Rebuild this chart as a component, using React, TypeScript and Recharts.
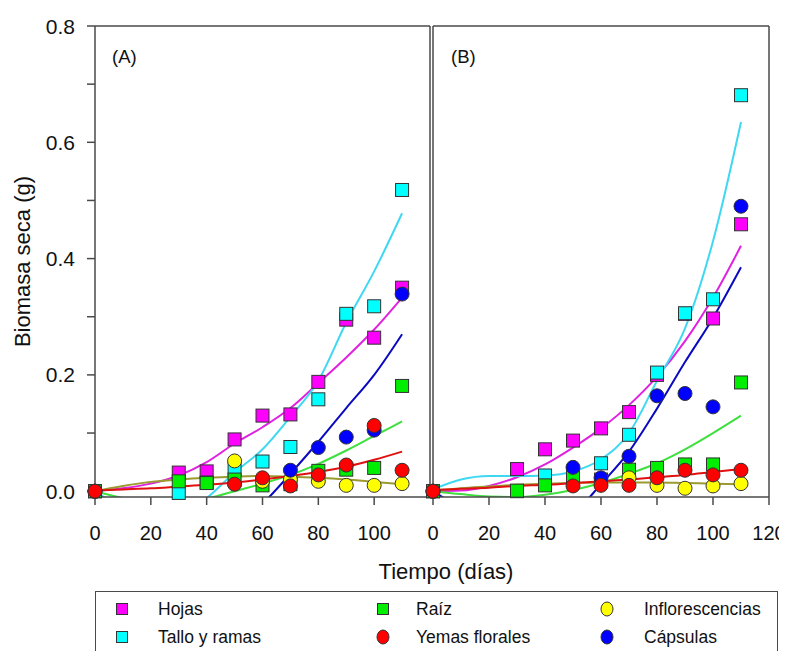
import React from "react";
import {
  ComposedChart,
  Scatter,
  Line,
  XAxis,
  YAxis,
  ReferenceLine,
} from "recharts";

// sampling days of the measured points and of the fitted curves
const DAYS = [0, 30, 40, 50, 60, 70, 80, 90, 100, 110];
const FIT_DAYS = [0, 10, 20, 30, 40, 50, 60, 70, 80, 90, 100, 110];

// panel (A) measured values, g
const HOJAS_A = [0, 0.032, 0.034, 0.089, 0.13, 0.132, 0.188, 0.295, 0.264, 0.35];
const TALLO_A = [0, -0.003, 0.015, 0.038, 0.051, 0.076, 0.158, 0.305, 0.318, 0.518];
const RAIZ_A = [0, 0.017, 0.014, 0.02, 0.01, 0.012, 0.035, 0.037, 0.04, 0.181];
const INFLOR_A = [0, null, null, 0.052, 0.017, 0.02, 0.017, 0.01, 0.01, 0.013];
const CAPSULAS_A = [0, null, null, null, null, 0.036, 0.075, 0.093, 0.105, 0.339];
const YEMAS_A = [0, null, null, 0.012, 0.023, 0.009, 0.028, 0.045, 0.113, 0.036];

// panel (A) fitted curves
const FIT_HOJAS_A = [0, 0.005, 0.013, 0.027, 0.05, 0.082, 0.11, 0.143, 0.186, 0.23, 0.278, 0.333];
const FIT_TALLO_A = [0, -0.03, -0.05, -0.045, -0.012, 0.032, 0.072, 0.128, 0.19, 0.29, 0.378, 0.478];
const FIT_RAIZ_A = [0, -0.012, -0.02, -0.02, -0.013, 0, 0.013, 0.028, 0.047, 0.07, 0.095, 0.12];
const FIT_INFLOR_A = [0, 0.009, 0.016, 0.02, 0.023, 0.025, 0.026, 0.025, 0.023, 0.02, 0.016, 0.012];
const FIT_CAPSULAS_A = [0, -0.04, -0.07, -0.09, -0.09, -0.065, -0.022, 0.03, 0.085, 0.143, 0.2, 0.27];
const FIT_YEMAS_A = [0.001, 0.003, 0.005, 0.008, 0.011, 0.015, 0.02, 0.026, 0.033, 0.042, 0.054, 0.068];

// panel (B) measured values, g
const HOJAS_B = [0, 0.038, 0.072, 0.087, 0.108, 0.136, 0.2, 0.305, 0.297, 0.459];
const TALLO_B = [0, 0, 0.027, 0.03, 0.048, 0.097, 0.204, 0.306, 0.33, 0.681];
const RAIZ_B = [0, 0.001, 0.01, 0.023, 0.02, 0.037, 0.04, 0.046, 0.046, 0.187];
const INFLOR_B = [0, null, null, null, null, 0.023, 0.01, 0.005, 0.009, 0.013];
const CAPSULAS_B = [0, null, null, 0.041, 0.023, 0.06, 0.164, 0.168, 0.145, 0.49];
const YEMAS_B = [0, null, null, 0.009, 0.01, 0.01, 0.023, 0.036, 0.028, 0.036];

// panel (B) fitted curves
const FIT_HOJAS_B = [0, 0.001, 0.009, 0.024, 0.046, 0.075, 0.108, 0.148, 0.197, 0.258, 0.333, 0.422];
const FIT_TALLO_B = [0.003, 0.02, 0.026, 0.026, 0.027, 0.034, 0.055, 0.1, 0.19, 0.28, 0.43, 0.635];
const FIT_RAIZ_B = [0, -0.005, -0.009, -0.01, -0.006, 0.002, 0.014, 0.03, 0.048, 0.072, 0.1, 0.13];
const FIT_INFLOR_B = [0.001, 0.005, 0.008, 0.011, 0.013, 0.014, 0.015, 0.015, 0.015, 0.014, 0.013, 0.012];
const FIT_CAPSULAS_B = [0, -0.03, -0.06, -0.075, -0.07, -0.04, 0.012, 0.068, 0.142, 0.222, 0.298, 0.385];
const FIT_YEMAS_B = [0.002, 0.004, 0.006, 0.009, 0.011, 0.014, 0.017, 0.02, 0.024, 0.028, 0.033, 0.038];

const Y_TICKS = [0, 0.1, 0.2, 0.3, 0.4, 0.5, 0.6, 0.7, 0.8];
const X_TICKS_A = [0, 20, 40, 60, 80, 100];
const X_TICKS_B = [0, 20, 40, 60, 80, 100, 120];

const FONT = "'Liberation Sans', Arial, sans-serif";
const AXIS = "#4a4a4a";
const Y_DOMAIN: [number, number] = [-0.01, 0.8];
const X_DOMAIN: [number, number] = [0, 120];

type Shape = "square" | "circle";

const SERIES = [
  { name: "Hojas", shape: "square" as Shape, fill: "#ff00ff", line: "#e022e0" },
  { name: "Tallo y ramas", shape: "square" as Shape, fill: "#00ffff", line: "#3fd8f2" },
  { name: "Raíz", shape: "square" as Shape, fill: "#00ee00", line: "#3ee03e" },
  { name: "Inflorescencias", shape: "circle" as Shape, fill: "#ffff00", line: "#9a9a30" },
  { name: "Cápsulas", shape: "circle" as Shape, fill: "#0000ff", line: "#0a0ac0" },
  { name: "Yemas florales", shape: "circle" as Shape, fill: "#ff0000", line: "#e01010" },
];

const PANEL_A = {
  points: [HOJAS_A, TALLO_A, RAIZ_A, INFLOR_A, CAPSULAS_A, YEMAS_A],
  fits: [FIT_HOJAS_A, FIT_TALLO_A, FIT_RAIZ_A, FIT_INFLOR_A, FIT_CAPSULAS_A, FIT_YEMAS_A],
};
const PANEL_B = {
  points: [HOJAS_B, TALLO_B, RAIZ_B, INFLOR_B, CAPSULAS_B, YEMAS_B],
  fits: [FIT_HOJAS_B, FIT_TALLO_B, FIT_RAIZ_B, FIT_INFLOR_B, FIT_CAPSULAS_B, FIT_YEMAS_B],
};

const toPoints = (xs: number[], ys: (number | null)[]) =>
  xs.map((x, i) => ({ x, y: ys[i] })).filter((d) => d.y !== null);

function marker(shape: Shape, fill: string) {
  return (props: any) => {
    const { cx, cy } = props;
    if (cx == null || cy == null) return <g />;
    if (shape === "square")
      return <rect x={cx - 6.5} y={cy - 6.5} width={13} height={13} fill={fill} stroke="#333" strokeWidth={1} />;
    return <circle cx={cx} cy={cy} r={7} fill={fill} stroke="#333" strokeWidth={1} />;
  };
}

const YTick = (props: any) => {
  const { x, y, payload } = props;
  const v = payload.value;
  if (Math.round(v * 10) % 2 !== 0) return <g />;
  return (
    <text x={x} y={y} dy={7.5} textAnchor="end" fontSize={21} fontFamily={FONT} fill="#111">
      {v.toFixed(1)}
    </text>
  );
};

const XTick = (props: any) => {
  const { x, y, payload } = props;
  return (
    <text x={x} y={y} dy={33} textAnchor="middle" fontSize={20} fontFamily={FONT} fill="#111">
      {payload.value}
    </text>
  );
};

function Panel({ data, first }: { data: typeof PANEL_A; first: boolean }) {
  const children: React.ReactNode[] = [];
  SERIES.forEach((s, i) => {
    children.push(
      <Scatter
        key={"p" + i}
        xAxisId="pts"
        yAxisId="pts"
        data={toPoints(DAYS, data.points[i])}
        shape={marker(s.shape, s.fill)}
        isAnimationActive={false}
      />
    );
    children.push(
      <Line
        key={"f" + i}
        data={toPoints(FIT_DAYS, data.fits[i])}
        dataKey="y"
        type="monotone"
        stroke={s.line}
        strokeWidth={2}
        dot={false}
        activeDot={false}
        isAnimationActive={false}
      />
    );
  });
  return (
    <ComposedChart
      width={first ? 440 : 356}
      height={560}
      margin={{ top: 26, right: 10, bottom: 33, left: first ? 0 : 10 }}
    >
      <XAxis
        dataKey="x"
        type="number"
        domain={X_DOMAIN}
        allowDataOverflow
        ticks={first ? X_TICKS_A : X_TICKS_B}
        interval={0}
        height={30}
        tickSize={8}
        tick={<XTick />}
        stroke={AXIS}
        strokeWidth={1.5}
      />
      <XAxis xAxisId="pts" dataKey="x" type="number" domain={X_DOMAIN} hide />
      <YAxis yAxisId="pts" dataKey="y" type="number" domain={Y_DOMAIN} hide />
      <YAxis
        dataKey="y"
        type="number"
        domain={Y_DOMAIN}
        allowDataOverflow
        ticks={Y_TICKS}
        interval={0}
        hide={!first}
        width={95}
        tickSize={8}
        tickMargin={12}
        tick={<YTick />}
        stroke={AXIS}
        strokeWidth={1.5}
        label={{
          value: "Biomasa seca (g)",
          content: (p: any) => {
            const vb = p.viewBox;
            const cx = vb.x + 22;
            const cy = vb.y + vb.height / 2;
            return (
              <text
                x={cx}
                y={cy}
                transform={`rotate(-90 ${cx} ${cy})`}
                textAnchor="middle"
                dominantBaseline="central"
                fontSize={22}
                fontFamily={FONT}
                fill="#111"
              >
                Biomasa seca (g)
              </text>
            );
          },
        }}
      />
      <ReferenceLine y={0.8} stroke={AXIS} strokeWidth={1.5} />
      <ReferenceLine x={120} stroke={AXIS} strokeWidth={1.5} />
      {!first && <ReferenceLine x={0} stroke={AXIS} strokeWidth={1.5} />}
      {children}
    </ComposedChart>
  );
}

function LegendBox() {
  const order = [0, 2, 3, 1, 5, 4];
  const markerX = [20, 281, 505];
  const textX = [62, 320, 548];
  return (
    <div
      style={{
        position: "absolute",
        left: 95,
        top: 591,
        width: 683,
        height: 70,
        border: `1.5px solid ${AXIS}`,
        boxSizing: "border-box",
        fontFamily: FONT,
        fontSize: 17.5,
        color: "#111",
      }}
    >
      {order.map((si, k) => {
        const s = SERIES[si];
        const col = k % 3;
        const row = Math.floor(k / 3);
        const top = 4 + row * 28;
        return (
          <React.Fragment key={s.name}>
            <svg width={14} height={16} style={{ position: "absolute", left: markerX[col] - 1.5, top: top + 5 }}>
              {s.shape === "square" ? (
                <rect x={1.5} y={2.5} width={11} height={11} fill={s.fill} stroke="#333" strokeWidth={1} />
              ) : (
                <ellipse cx={7} cy={8} rx={6} ry={7} fill={s.fill} stroke="#333" strokeWidth={1} />
              )}
            </svg>
            <span style={{ position: "absolute", left: textX[col], top, lineHeight: "26px" }}>{s.name}</span>
          </React.Fragment>
        );
      })}
    </div>
  );
}

export default function App() {
  const txt: React.CSSProperties = { position: "absolute", fontFamily: FONT, color: "#111" };
  return (
    <div style={{ position: "absolute", left: 0, top: 0, width: 786, height: 651, background: "#fff", overflow: "hidden" }}>
      <div style={{ position: "absolute", left: 0, top: 0 }}>
        <Panel data={PANEL_A} first />
      </div>
      <div style={{ position: "absolute", left: 423, top: 0 }}>
        <Panel data={PANEL_B} first={false} />
      </div>
      <div style={{ ...txt, left: 112, top: 46, fontSize: 18.5 }}>(A)</div>
      <div style={{ ...txt, left: 451, top: 46, fontSize: 18.5 }}>(B)</div>
      <div style={{ ...txt, left: 246, width: 400, textAlign: "center", top: 559, fontSize: 22 }}>Tiempo (días)</div>
      <LegendBox />
    </div>
  );
}
